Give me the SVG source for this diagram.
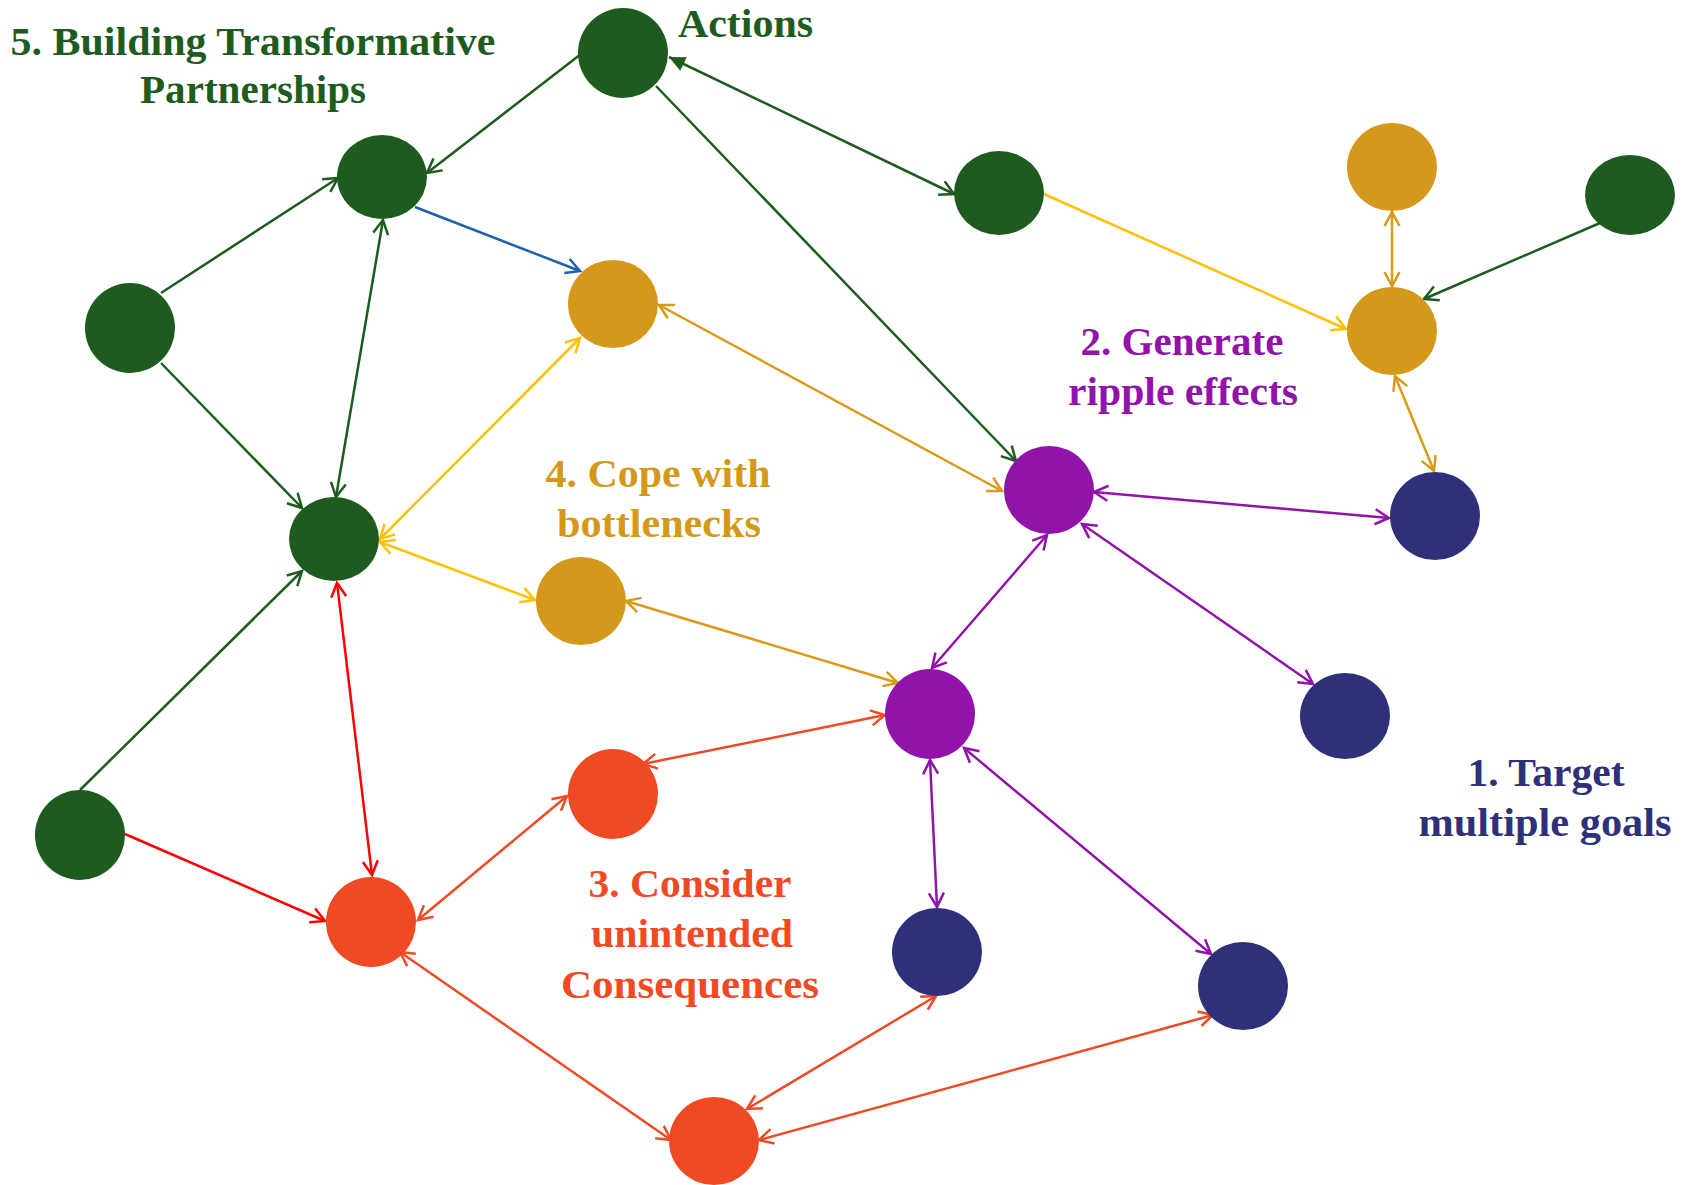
<svg xmlns="http://www.w3.org/2000/svg" width="1688" height="1185" viewBox="0 0 1688 1185">
<style>
.lbl{font-family:"Liberation Serif","Times New Roman",serif;font-weight:bold;font-size:40px}
.g{fill:#1e5b1e}.o{fill:#d4991a}.p{fill:#9213aa}.n{fill:#2e3179}.r{fill:#f04a24}
.c{fill:none;stroke-width:2.5}
.cg{stroke:#1e5b1e}.cb{stroke:#1f5fb0}.cy{stroke:#ffc000}.co{stroke:#d89a17}.cp{stroke:#9213aa}.cr{stroke:#f04a24}.cR{stroke:#ff0000}
</style>
<defs>
<marker id="mg" viewBox="-17 -10 20 20" refX="0" refY="0" markerWidth="20" markerHeight="20" markerUnits="userSpaceOnUse" orient="auto-start-reverse"><path d="M-14,-7.5 L0,0 L-14,7.5" fill="none" stroke="#1e5b1e" stroke-width="2.5"/></marker>
<marker id="mgf" viewBox="-19 -10 22 20" refX="0" refY="0" markerWidth="22" markerHeight="20" markerUnits="userSpaceOnUse" orient="auto-start-reverse"><path d="M-16,-7.5 L0,0 L-16,7.5 Z" fill="#1e5b1e"/></marker>
<marker id="mb" viewBox="-17 -10 20 20" refX="0" refY="0" markerWidth="20" markerHeight="20" markerUnits="userSpaceOnUse" orient="auto-start-reverse"><path d="M-14,-7.5 L0,0 L-14,7.5" fill="none" stroke="#1f5fb0" stroke-width="2.5"/></marker>
<marker id="my" viewBox="-17 -10 20 20" refX="0" refY="0" markerWidth="20" markerHeight="20" markerUnits="userSpaceOnUse" orient="auto-start-reverse"><path d="M-14,-7.5 L0,0 L-14,7.5" fill="none" stroke="#ffc000" stroke-width="2.5"/></marker>
<marker id="mo" viewBox="-17 -10 20 20" refX="0" refY="0" markerWidth="20" markerHeight="20" markerUnits="userSpaceOnUse" orient="auto-start-reverse"><path d="M-14,-7.5 L0,0 L-14,7.5" fill="none" stroke="#d89a17" stroke-width="2.5"/></marker>
<marker id="mp" viewBox="-17 -10 20 20" refX="0" refY="0" markerWidth="20" markerHeight="20" markerUnits="userSpaceOnUse" orient="auto-start-reverse"><path d="M-14,-7.5 L0,0 L-14,7.5" fill="none" stroke="#9213aa" stroke-width="2.5"/></marker>
<marker id="mr" viewBox="-17 -10 20 20" refX="0" refY="0" markerWidth="20" markerHeight="20" markerUnits="userSpaceOnUse" orient="auto-start-reverse"><path d="M-14,-7.5 L0,0 L-14,7.5" fill="none" stroke="#f04a24" stroke-width="2.5"/></marker>
<marker id="mR" viewBox="-17 -10 20 20" refX="0" refY="0" markerWidth="20" markerHeight="20" markerUnits="userSpaceOnUse" orient="auto-start-reverse"><path d="M-14,-7.5 L0,0 L-14,7.5" fill="none" stroke="#ff0000" stroke-width="2.5"/></marker>
</defs>
<rect width="1688" height="1185" fill="#ffffff"/>

<g id="connectors">
<line class="c cg" x1="581" y1="54" x2="427" y2="173" marker-end="url(#mg)"/>
<line class="c cg" x1="669" y1="57" x2="954" y2="194" marker-start="url(#mgf)" marker-end="url(#mg)"/>
<line class="c cg" x1="656" y1="86" x2="1016" y2="461" marker-end="url(#mg)"/>
<line class="c cg" x1="161" y1="293" x2="338" y2="178" marker-end="url(#mg)"/>
<line class="c cb" x1="415" y1="207" x2="580" y2="271" marker-end="url(#mb)"/>
<line class="c cg" x1="383" y1="220" x2="336" y2="497" marker-start="url(#mg)" marker-end="url(#mg)"/>
<line class="c cg" x1="161" y1="363" x2="302" y2="508" marker-end="url(#mg)"/>
<line class="c cg" x1="80" y1="790" x2="302" y2="571" marker-end="url(#mg)"/>
<line class="c cy" x1="580" y1="338" x2="380" y2="539" marker-start="url(#my)" marker-end="url(#my)"/>
<line class="c cy" x1="380" y1="542" x2="535" y2="600" marker-start="url(#my)" marker-end="url(#my)"/>
<line class="c co" x1="659" y1="305" x2="1002" y2="491" marker-start="url(#mo)" marker-end="url(#mo)"/>
<line class="c cy" x1="1044" y1="194" x2="1346" y2="329" marker-end="url(#my)"/>
<line class="c co" x1="1392" y1="212" x2="1392" y2="286" marker-start="url(#mo)" marker-end="url(#mo)"/>
<line class="c cg" x1="1600" y1="223" x2="1424" y2="299" marker-end="url(#mg)"/>
<line class="c co" x1="1395" y1="376" x2="1434" y2="471" marker-start="url(#mo)" marker-end="url(#mo)"/>
<line class="c cp" x1="1094" y1="492" x2="1389" y2="518" marker-start="url(#mp)" marker-end="url(#mp)"/>
<line class="c cp" x1="1082" y1="524" x2="1313" y2="684" marker-start="url(#mp)" marker-end="url(#mp)"/>
<line class="c cp" x1="1047" y1="535" x2="932" y2="668" marker-start="url(#mp)" marker-end="url(#mp)"/>
<line class="c co" x1="626" y1="601" x2="898" y2="683" marker-start="url(#mo)" marker-end="url(#mo)"/>
<line class="c cr" x1="643" y1="764" x2="885" y2="715" marker-start="url(#mr)" marker-end="url(#mr)"/>
<line class="c cp" x1="930" y1="760" x2="937" y2="907" marker-start="url(#mp)" marker-end="url(#mp)"/>
<line class="c cp" x1="964" y1="748" x2="1211" y2="954" marker-start="url(#mp)" marker-end="url(#mp)"/>
<line class="c cR" x1="337" y1="583" x2="372" y2="875" marker-start="url(#mR)" marker-end="url(#mR)"/>
<line class="c cR" x1="125" y1="834" x2="325" y2="921" marker-end="url(#mR)"/>
<line class="c cr" x1="567" y1="796" x2="418" y2="920" marker-start="url(#mr)" marker-end="url(#mr)"/>
<line class="c cr" x1="400" y1="952" x2="671" y2="1140" marker-start="url(#mr)" marker-end="url(#mr)"/>
<line class="c cr" x1="747" y1="1109" x2="936" y2="996" marker-start="url(#mr)" marker-end="url(#mr)"/>
<line class="c cr" x1="759" y1="1140" x2="1213" y2="1015" marker-start="url(#mr)" marker-end="url(#mr)"/>
</g>

<g id="node-actions"><ellipse class="g" cx="623" cy="53" rx="45" ry="45"/></g>
<g id="node-g-b"><ellipse class="g" cx="382" cy="177" rx="45" ry="42"/></g>
<g id="node-g-c"><ellipse class="g" cx="999" cy="193" rx="45" ry="42"/></g>
<g id="node-g-d"><ellipse class="g" cx="1630" cy="195" rx="45" ry="40"/></g>
<g id="node-g-e"><ellipse class="g" cx="130" cy="328" rx="45" ry="45"/></g>
<g id="node-g-f"><ellipse class="g" cx="334" cy="539" rx="45" ry="42"/></g>
<g id="node-g-h"><ellipse class="g" cx="80" cy="835" rx="45" ry="45"/></g>
<g id="node-o-1"><ellipse class="o" cx="613" cy="304" rx="45" ry="44"/></g>
<g id="node-o-2"><ellipse class="o" cx="1392" cy="167" rx="45" ry="44"/></g>
<g id="node-o-3"><ellipse class="o" cx="1392" cy="331" rx="45" ry="44"/></g>
<g id="node-o-4"><ellipse class="o" cx="581" cy="601" rx="45" ry="44"/></g>
<g id="node-p-1"><ellipse class="p" cx="1049" cy="490" rx="45" ry="44"/></g>
<g id="node-p-2"><ellipse class="p" cx="930" cy="714" rx="45" ry="45"/></g>
<g id="node-n-1"><ellipse class="n" cx="1435" cy="516" rx="45" ry="44"/></g>
<g id="node-n-2"><ellipse class="n" cx="1345" cy="716" rx="45" ry="43"/></g>
<g id="node-n-3"><ellipse class="n" cx="937" cy="952" rx="45" ry="44"/></g>
<g id="node-n-4"><ellipse class="n" cx="1243" cy="986" rx="45" ry="44"/></g>
<g id="node-r-1"><ellipse class="r" cx="613" cy="794" rx="45" ry="45"/></g>
<g id="node-r-2"><ellipse class="r" cx="371" cy="922" rx="45" ry="45"/></g>
<g id="node-r-3"><ellipse class="r" cx="714" cy="1141" rx="45" ry="44"/></g>

<g id="labels">
<text class="lbl g" x="253" y="55" text-anchor="middle" textLength="485" lengthAdjust="spacingAndGlyphs">5. Building Transformative</text>
<text class="lbl g" x="253" y="103" text-anchor="middle" textLength="226" lengthAdjust="spacingAndGlyphs">Partnerships</text>
<text class="lbl g" x="678" y="37" textLength="135" lengthAdjust="spacingAndGlyphs">Actions</text>
<text class="lbl p" x="1182" y="355" text-anchor="middle" textLength="203" lengthAdjust="spacingAndGlyphs">2. Generate</text>
<text class="lbl p" x="1183" y="405" text-anchor="middle" textLength="230" lengthAdjust="spacingAndGlyphs">ripple effects</text>
<text class="lbl o" x="658" y="487" text-anchor="middle" textLength="225" lengthAdjust="spacingAndGlyphs">4. Cope with</text>
<text class="lbl o" x="659" y="537" text-anchor="middle" textLength="204" lengthAdjust="spacingAndGlyphs">bottlenecks</text>
<text class="lbl r" x="690" y="897" text-anchor="middle" textLength="203" lengthAdjust="spacingAndGlyphs">3. Consider</text>
<text class="lbl r" x="692" y="947" text-anchor="middle" textLength="202" lengthAdjust="spacingAndGlyphs">unintended</text>
<text class="lbl r" x="690" y="998" text-anchor="middle" textLength="258" lengthAdjust="spacingAndGlyphs">Consequences</text>
<text class="lbl n" x="1546" y="786" text-anchor="middle" textLength="157" lengthAdjust="spacingAndGlyphs">1. Target</text>
<text class="lbl n" x="1545" y="836" text-anchor="middle" textLength="253" lengthAdjust="spacingAndGlyphs">multiple goals</text>
</g>
</svg>
